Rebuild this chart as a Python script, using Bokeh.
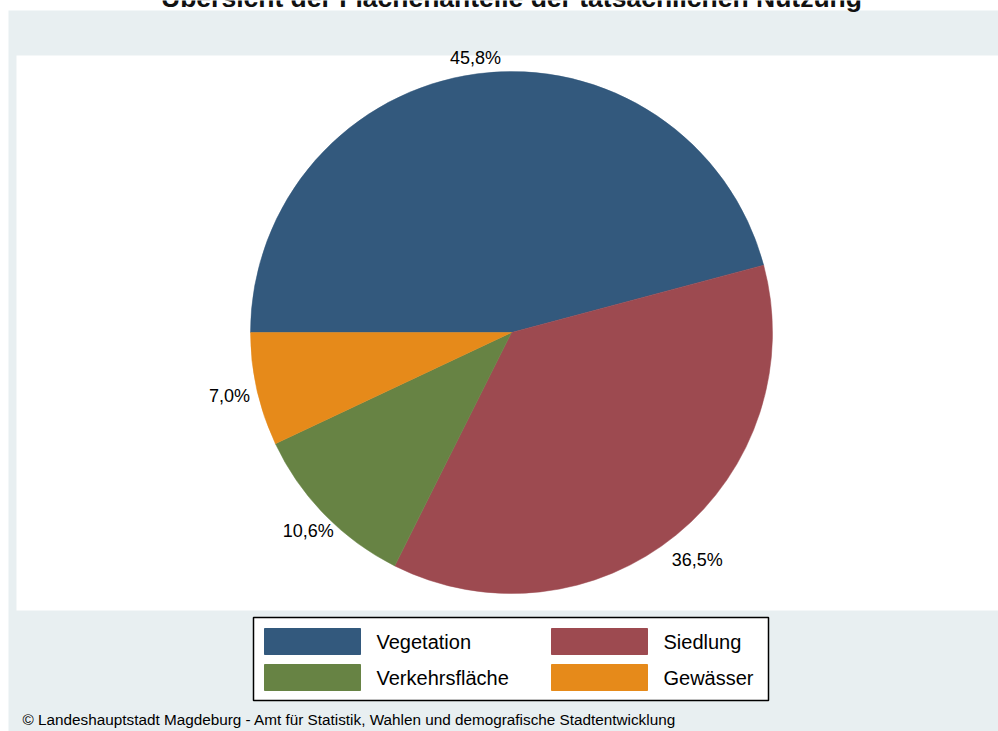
import math
from bokeh.plotting import figure
from bokeh.models import Range1d, ColumnDataSource
from bokeh.core.properties import value
from bokeh.embed import file_html
from bokeh.resources import INLINE

# ---- data ----
categories = ["Vegetation", "Siedlung", "Verkehrsfläche", "Gewässer"]
shares = [45.8, 36.5, 10.6, 7.0]
colors = ["#33597d", "#9d4a50", "#678344", "#e68a1a"]
title_text = "Übersicht der Flächenanteile der tatsächlichen Nutzung"
footer_text = "©  Landeshauptstadt Magdeburg - Amt für Statistik, Wahlen und demografische Stadtentwicklung"

# ---- layout constants (canvas pixels, y measured from top) ----
W, H = 998, 731
BG = "#e8eff1"
FONT = "Liberation Sans"
label_radius = [277, 294, 284, 289]   # distance of each percentage label from the pie centre


def Y(cy):
    return H - cy


p = figure(width=W, height=H, x_range=Range1d(0, W), y_range=Range1d(0, H),
           output_backend="svg", toolbar_location=None, min_border=0,
           background_fill_color="white", border_fill_color="white", outline_line_color=None)
p.axis.visible = False
p.grid.visible = False

# graph region (light) and plot region (white)
p.quad(left=[8], right=[W], bottom=[0], top=[Y(10)], fill_color=BG, line_color=None)
p.quad(left=[16], right=[W], bottom=[Y(610)], top=[Y(55)], fill_color="white", line_color=None)

# ---- pie ----
cx, cy, r = 511, Y(332), 261
total = sum(shares)
starts, ends, mids = [], [], []
a = math.pi
for v in shares:
    span = v / total * 2 * math.pi
    starts.append(a)
    ends.append(a - span)
    mids.append(a - span / 2)
    a -= span

src = ColumnDataSource(dict(cat=categories, share=shares, color=colors,
                            start=starts, end=ends))
p.wedge(x=cx, y=cy, radius=r, start_angle="start", end_angle="end", direction="clock",
        fill_color="color", line_color="color", line_width=0.5, source=src)

lab_x = [cx + R * math.cos(m) for m, R in zip(mids, label_radius)]
lab_y = [cy + R * math.sin(m) for m, R in zip(mids, label_radius)]
lab_t = [f"{v:.1f}".replace(".", ",") + "%" for v in shares]
p.text(x=lab_x, y=lab_y, text=lab_t, text_align="center", text_baseline="middle",
       text_font=value(FONT), text_font_size="18px", text_color="black")

# ---- legend (2 columns) ----
p.quad(left=[253], right=[768], top=[Y(617)], bottom=[Y(700)], fill_color="white",
       line_color="black", line_width=1.5)
col_x = [264, 551]
row_y = [628, 664]
sw_w, sw_h, standoff = 96, 26, 16
lx0, lx1, ly0, ly1, tx, ty = [], [], [], [], [], []
for i, c in enumerate(categories):
    col, row = i % 2, i // 2
    lx0.append(col_x[col]); lx1.append(col_x[col] + sw_w)
    ly0.append(Y(row_y[row] + sw_h)); ly1.append(Y(row_y[row]))
    tx.append(col_x[col] + sw_w + standoff); ty.append(Y(row_y[row] + sw_h / 2))
p.quad(left=lx0, right=lx1, bottom=ly0, top=ly1, fill_color=colors, line_color=colors)
p.text(x=tx, y=ty, text=categories, text_align="left", text_baseline="middle",
       text_font=value(FONT), text_font_size="20px", text_color="black")

# ---- title (cut at the top edge, as in the reference) ----
p.text(x=[511], y=[Y(-3)], text=[title_text], text_align="center", text_baseline="alphabetic",
       text_font=value(FONT), text_font_size="26.5px", text_font_style="bold", text_color="#111111")

# ---- footer ----
p.text(x=[22], y=[Y(719)], text=[footer_text], text_align="left", text_baseline="middle",
       text_font=value(FONT), text_font_size="15.3px", text_color="black")

open("out.html", "w").write(file_html(p, INLINE))
